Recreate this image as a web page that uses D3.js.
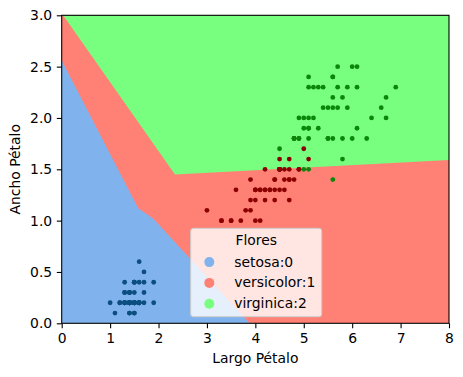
<!DOCTYPE html>
<html>
<head>
<meta charset="utf-8">
<script src="https://cdn.jsdelivr.net/npm/d3@7"></script>
<style>
  body { margin: 0; background: #fff; }
  svg text { font-family: "DejaVu Sans", sans-serif; }
</style>
</head>
<body>
<div id="chart"></div>
<script>
// iris petal measurements (largo, ancho) per class
const species = ['setosa', 'versicolor', 'virginica'];

const setosaLength = [1.4,1.4,1.3,1.5,1.4,1.7,1.4,1.5,1.4,1.5,1.5,1.6,1.4,1.1,1.2,1.5,1.3,1.4,1.7,1.5,
  1.7,1.5,1.0,1.7,1.9,1.6,1.6,1.5,1.4,1.6,1.6,1.5,1.5,1.4,1.5,1.2,1.3,1.4,1.3,1.5,
  1.3,1.3,1.3,1.6,1.9,1.4,1.6,1.4,1.5,1.4];
const setosaWidth = [0.2,0.2,0.2,0.2,0.2,0.4,0.3,0.2,0.2,0.1,0.2,0.2,0.1,0.1,0.2,0.4,0.4,0.3,0.3,0.3,
  0.2,0.4,0.2,0.5,0.2,0.2,0.4,0.2,0.2,0.2,0.2,0.4,0.1,0.2,0.2,0.2,0.2,0.1,0.2,0.2,
  0.3,0.3,0.2,0.6,0.4,0.3,0.2,0.2,0.2,0.2];

const versicolorLength = [4.7,4.5,4.9,4.0,4.6,4.5,4.7,3.3,4.6,3.9,3.5,4.2,4.0,4.7,3.6,4.4,4.5,4.1,4.5,3.9,
  4.8,4.0,4.9,4.7,4.3,4.4,4.8,5.0,4.5,3.5,3.8,3.7,3.9,5.1,4.5,4.5,4.7,4.4,4.1,4.0,
  4.4,4.6,4.0,3.3,4.2,4.2,4.2,4.3,3.0,4.1];
const versicolorWidth = [1.4,1.5,1.5,1.3,1.5,1.3,1.6,1.0,1.3,1.4,1.0,1.5,1.0,1.4,1.3,1.4,1.5,1.0,1.5,1.1,
  1.8,1.3,1.5,1.2,1.3,1.4,1.4,1.7,1.5,1.0,1.1,1.0,1.2,1.6,1.5,1.6,1.5,1.3,1.3,1.3,
  1.2,1.4,1.2,1.0,1.3,1.2,1.3,1.3,1.1,1.3];

const virginicaLength = [6.0,5.1,5.9,5.6,5.8,6.6,4.5,6.3,5.8,6.1,5.1,5.3,5.5,5.0,5.1,5.3,5.5,6.7,6.9,5.0,
  5.7,4.9,6.7,4.9,5.7,6.0,4.8,4.9,5.6,5.8,6.1,6.4,5.6,5.1,5.6,6.1,5.6,5.5,4.8,5.4,
  5.6,5.1,5.1,5.9,5.7,5.2,5.0,5.2,5.4,5.1];
const virginicaWidth = [2.5,1.9,2.1,1.8,2.2,2.1,1.7,1.8,1.8,2.5,2.0,1.9,2.1,2.0,2.4,2.3,1.8,2.2,2.3,1.5,
  2.3,2.0,2.0,1.8,2.1,1.8,1.8,1.8,2.1,1.6,1.9,2.0,2.2,1.5,1.4,2.3,2.4,1.8,1.8,2.1,
  2.4,2.3,1.9,2.3,2.5,2.3,1.9,2.0,2.3,1.8];

// decision regions (largo, ancho); versicolor fills the rest
const setosaRegion = [[0, 0], [0, 2.56], [1.58, 1.12], [1.89, 1.02], [3.88, 0]];
const virginicaRegion = [[0, 3.02], [2.34, 1.45], [8, 1.59], [8, 3]];

const xTicks = [0, 1, 2, 3, 4, 5, 6, 7, 8];
const yTicks = [0, 0.5, 1.0, 1.5, 2.0, 2.5, 3.0];

const regionColors = ['#80b3ee', '#ff8074', '#79ff80'];
const pointColors = ['#0b4e7f', '#8b0000', '#0a870a'];

const margin = { top: 15.3, right: 14, bottom: 53.7, left: 61.7 };
const W = 463, H = 377;
const width = W - margin.left - margin.right;
const height = H - margin.top - margin.bottom;

const xScale = d3.scaleLinear([0, 8], [0, width]);
const yScale = d3.scaleLinear([0, 3], [height, 0]);

const svg = d3.select('#chart')
  .append('svg')
  .attr('width', W)
  .attr('height', H);

const g = svg.append('g')
  .attr('transform', `translate(${margin.left},${margin.top})`);

g.append('clipPath').attr('id', 'plot-clip')
  .append('rect').attr('width', width).attr('height', height);

const plot = g.append('g').attr('clip-path', 'url(#plot-clip)');

// regions
plot.append('rect')
  .attr('width', width)
  .attr('height', height)
  .style('fill', regionColors[1]);

const line = d3.line().x(d => xScale(d[0])).y(d => yScale(d[1]));

plot.append('path')
  .attr('d', line(setosaRegion) + 'Z')
  .style('fill', regionColors[0]);

plot.append('path')
  .attr('d', line(virginicaRegion) + 'Z')
  .style('fill', regionColors[2]);

// points
const groups = [
  d3.zip(setosaLength, setosaWidth),
  d3.zip(versicolorLength, versicolorWidth),
  d3.zip(virginicaLength, virginicaWidth),
];

groups.forEach((pts, i) => {
  plot.selectAll(`.pt-${i}`)
    .data(pts)
    .enter()
    .append('circle')
    .attr('class', `pt-${i}`)
    .attr('cx', d => xScale(d[0]))
    .attr('cy', d => yScale(d[1]))
    .attr('r', 2.4)
    .style('fill', pointColors[i]);
});

// axes
const xAxis = d3.axisBottom(xScale)
  .tickValues(xTicks)
  .tickFormat(d3.format('d'))
  .tickSize(4.9)
  .tickSizeOuter(0)
  .tickPadding(4.6);

const yAxis = d3.axisLeft(yScale)
  .tickValues(yTicks)
  .tickFormat(d3.format('.1f'))
  .tickSize(4.9)
  .tickSizeOuter(0)
  .tickPadding(4.6);

const xAxisDraw = g.append('g')
  .attr('transform', `translate(0,${height})`)
  .call(xAxis);
const yAxisDraw = g.append('g').call(yAxis);

[xAxisDraw, yAxisDraw].forEach(a => {
  a.select('.domain').remove();
  a.selectAll('line').style('stroke', '#000').style('stroke-width', 1.1);
  a.selectAll('text')
    .style('font-size', '13.9px')
    .style('fill', '#000')
    .style('font-family', '"DejaVu Sans", sans-serif');
});

// frame
g.append('rect')
  .attr('width', width)
  .attr('height', height)
  .style('fill', 'none')
  .style('stroke', '#000')
  .style('stroke-width', 1.1);

// axis labels
svg.append('text')
  .attr('x', margin.left + width / 2)
  .attr('y', 363.4)
  .attr('text-anchor', 'middle')
  .style('font-size', '13.9px')
  .text('Largo Pétalo');

svg.append('text')
  .attr('transform', `translate(19.6,${margin.top + height / 2}) rotate(-90)`)
  .attr('text-anchor', 'middle')
  .style('font-size', '13.9px')
  .text('Ancho Pétalo');

// legend
const legend = svg.append('g').attr('transform', 'translate(190.7,228.3)');

legend.append('rect')
  .attr('width', 131)
  .attr('height', 88.4)
  .attr('rx', 2.8)
  .style('fill', '#fff')
  .style('fill-opacity', 0.8)
  .style('stroke', '#cccccc')
  .style('stroke-width', 1);

legend.append('text')
  .attr('x', 65.5)
  .attr('y', 16.8)
  .attr('text-anchor', 'middle')
  .style('font-size', '13.9px')
  .text('Flores');

const items = legend.selectAll('.item')
  .data(species)
  .enter()
  .append('g')
  .attr('class', 'item')
  .attr('transform', (d, i) => `translate(0,${38.2 + i * 20.8})`);

items.append('circle')
  .attr('cx', 18.6)
  .attr('cy', -4.4)
  .attr('r', 5)
  .style('fill', (d, i) => regionColors[i]);

items.append('text')
  .attr('x', 43.5)
  .style('font-size', '13.9px')
  .text((d, i) => `${d}:${i}`);
</script>
</body>
</html>
